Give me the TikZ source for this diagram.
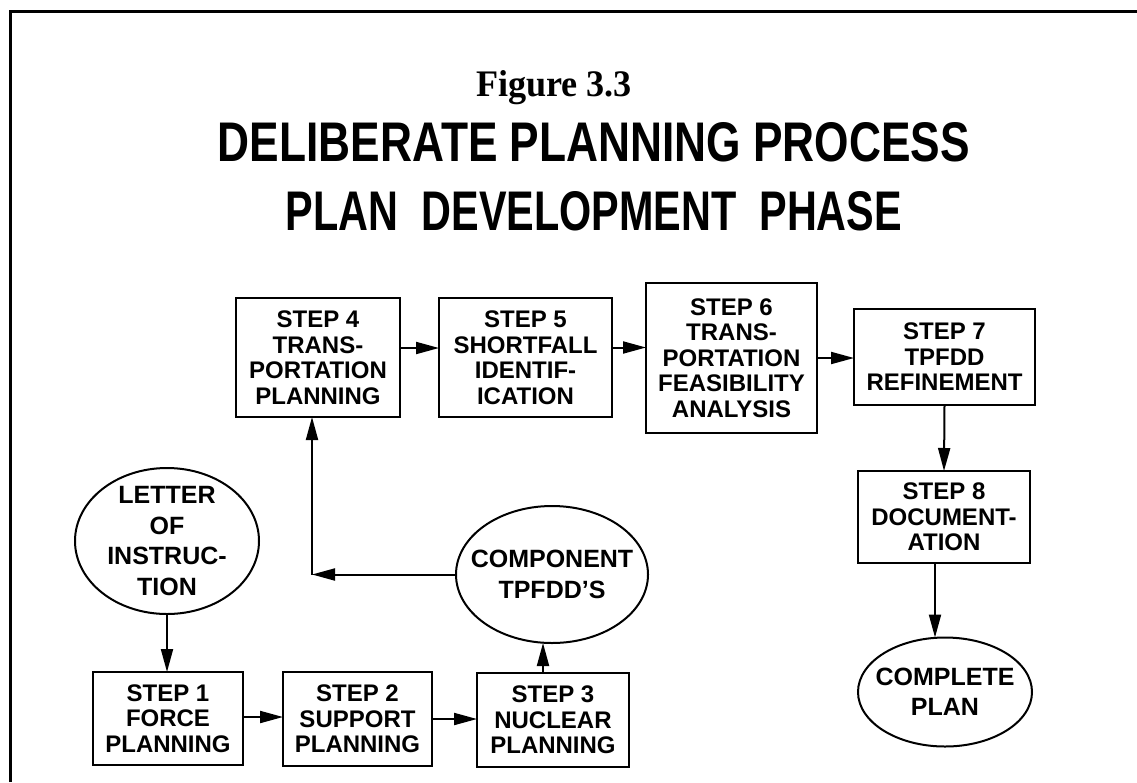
\documentclass[tikz,border=0pt]{standalone}
\usepackage{graphicx}
\usepackage{fontspec}
\setmainfont{Liberation Serif}
\setsansfont{Liberation Sans}
\usetikzlibrary{shapes.geometric,arrows.meta}
\begin{document}
\begin{tikzpicture}[x=1pt,y=-1pt,
  every node/.style={inner sep=0pt, outer sep=0pt},
  stepbox/.style={draw, line width=2pt, rectangle, align=center,
    font=\sffamily\bfseries\fontsize{24}{25.5}\selectfont},
  oval/.style={draw, line width=2pt, ellipse, align=center,
    inner xsep=-15pt, inner ysep=-8pt,
    font=\sffamily\bfseries\fontsize{25}{30.5}\selectfont},
  arr/.style={line width=2pt, -{Triangle[length=23pt,width=12pt]}},
  frame/.style={line width=3pt}
]
\useasboundingbox (0,0) rectangle (1137,782);
% frame
\draw[frame] (10,782) -- (10,11) -- (1137,11);
% titles
\node[anchor=base] (fig) at (554,96) {\resizebox{156pt}{26pt}{\rmfamily\bfseries Figure 3.3}};
\node[anchor=base] (t1) at (594,161) {\resizebox{752pt}{39pt}{\sffamily\bfseries DELIBERATE PLANNING PROCESS}};
\node[anchor=base] (t2) at (594,230) {\resizebox{616pt}{39pt}{\sffamily\bfseries PLAN\ \ DEVELOPMENT\ \ PHASE}};
% nodes
\node[oval, minimum width=184pt, minimum height=146pt] (loi) at (167,541) {LETTER\\OF\\INSTRUC-\\TION};
\node[stepbox, minimum width=150pt, minimum height=93pt] (s1) at (168,718.5) {STEP 1\\FORCE\\PLANNING};
\node[stepbox, minimum width=149pt, minimum height=94pt] (s2) at (357.5,719) {STEP 2\\SUPPORT\\PLANNING};
\node[stepbox, minimum width=152pt, minimum height=94pt] (s3) at (553,720) {STEP 3\\NUCLEAR\\PLANNING};
\node[oval, minimum width=192pt, minimum height=137pt] (comp) at (552,574.5) {COMPONENT\\TPFDD’S};
\node[stepbox, minimum width=164pt, minimum height=119pt] (s4) at (318,357.5) {STEP 4\\TRANS-\\PORTATION\\PLANNING};
\node[stepbox, minimum width=173pt, minimum height=119pt] (s5) at (525.5,357.5) {STEP 5\\SHORTFALL\\IDENTIF-\\ICATION};
\node[stepbox, minimum width=171pt, minimum height=150pt] (s6) at (731.5,358) {STEP 6\\TRANS-\\PORTATION\\FEASIBILITY\\ANALYSIS};
\node[stepbox, minimum width=181pt, minimum height=96pt] (s7) at (944.5,357) {STEP 7\\TPFDD\\REFINEMENT};
\node[stepbox, minimum width=172pt, minimum height=92pt] (s8) at (944,517) {STEP 8\\DOCUMENT-\\ATION};
\node[oval, minimum width=174pt, minimum height=109pt] (cp) at (945,692) {COMPLETE\\PLAN};
% connectors
\draw[arr] (loi.south) -- (loi.south |- s1.north);
\draw[arr] ([yshift=1.5pt]s1.east) -- ([yshift=1.5pt]s1.east -| s2.west);
\draw[arr] (s2.east) -- (s2.east -| s3.west);
\draw[arr] ([xshift=-10pt]s3.north) -- ([xshift=-10pt]s3.north |- comp.south);
\coordinate (c) at (312,574.5);
\draw[arr] (comp.west) -- (c);
\draw[arr] (c) -- (c |- s4.south);
\draw[arr] ([yshift=9.5pt]s4.east) -- ([yshift=9.5pt]s4.east -| s5.west);
\draw[arr] ([yshift=10pt]s5.east) -- ([yshift=10pt]s5.east -| s6.west);
\draw[arr] (s6.east) -- (s6.east -| s7.west);
\draw[arr] (s7.south) -- (s8.north);
\draw[arr] ([xshift=-9pt]s8.south) -- ([xshift=-9pt]s8.south |- cp.north);
\end{tikzpicture}
\end{document}
